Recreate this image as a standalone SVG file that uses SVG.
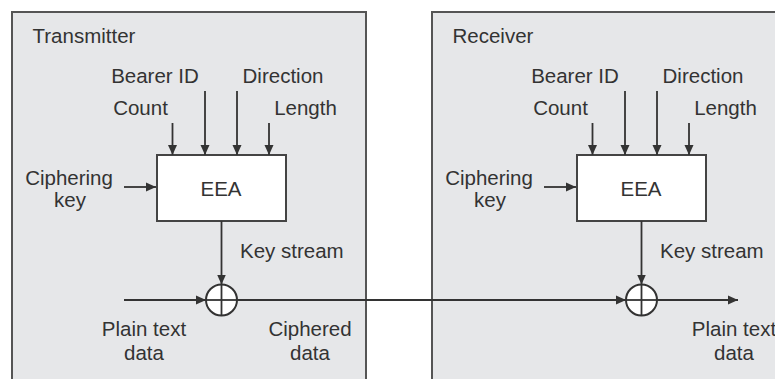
<svg xmlns="http://www.w3.org/2000/svg" width="775" height="379" viewBox="0 0 775 379">
  <style>
    .panel { fill: #e6e7e9; stroke: #555; stroke-width: 2; }
    .block { fill: #ffffff; stroke: #444; stroke-width: 2; }
    .xor { fill: #ffffff; stroke: #333; stroke-width: 2; }
    .wire { fill: none; stroke: #333; stroke-width: 1.8; }
    .lbl { font-family: "Liberation Sans", Arial, Helvetica, sans-serif; font-size: 20.5px; fill: #333; }
    .mid { text-anchor: middle; }
  </style>
  <defs>
    <marker id="arrow" markerUnits="userSpaceOnUse" markerWidth="10" markerHeight="10" viewBox="0 0 10 10" refX="10" refY="5" orient="auto">
      <path d="M0,0.5 L10,5 L0,9.5 z" fill="#333"/>
    </marker>
  </defs>

  <rect width="775" height="379" fill="#ffffff"/>

  <!-- Transmitter side -->
  <g id="transmitter">
    <rect class="panel" x="12" y="12" width="354" height="380"/>
    <text class="lbl" x="32.5" y="43">Transmitter</text>
  </g>
  <g id="tx-inputs">
    <text class="lbl mid" x="155" y="83">Bearer ID</text>
    <text class="lbl mid" x="283" y="83">Direction</text>
    <text class="lbl mid" x="140.5" y="115">Count</text>
    <text class="lbl mid" x="305.5" y="115">Length</text>
    <text class="lbl mid" x="69" y="185">Ciphering</text>
    <text class="lbl mid" x="70" y="207">key</text>
  </g>
  <g id="tx-eea">
    <rect class="block" x="157" y="155" width="129" height="66"/>
    <text class="lbl mid" x="221" y="196">EEA</text>
  </g>
  <g id="tx-xor">
    <circle class="xor" cx="221.5" cy="300" r="15.5"/>
    <line class="wire" x1="221.5" y1="284.5" x2="221.5" y2="315.5"/>
    <line class="wire" x1="206" y1="300" x2="237" y2="300"/>
  </g>
  <g id="tx-data">
    <text class="lbl" x="240" y="258">Key stream</text>
    <text class="lbl mid" x="144" y="336">Plain text</text>
    <text class="lbl mid" x="144" y="360">data</text>
    <text class="lbl mid" x="310" y="336">Ciphered</text>
    <text class="lbl mid" x="310" y="360">data</text>
  </g>

  <!-- Receiver side -->
  <g id="receiver">
    <rect class="panel" x="432" y="12" width="360" height="380"/>
    <text class="lbl" x="452.5" y="43">Receiver</text>
  </g>
  <g id="rx-inputs">
    <text class="lbl mid" x="575" y="83">Bearer ID</text>
    <text class="lbl mid" x="703" y="83">Direction</text>
    <text class="lbl mid" x="560.5" y="115">Count</text>
    <text class="lbl mid" x="725.5" y="115">Length</text>
    <text class="lbl mid" x="489" y="185">Ciphering</text>
    <text class="lbl mid" x="490" y="207">key</text>
  </g>
  <g id="rx-eea">
    <rect class="block" x="577" y="155" width="129" height="66"/>
    <text class="lbl mid" x="641" y="196">EEA</text>
  </g>
  <g id="rx-xor">
    <circle class="xor" cx="641.5" cy="300" r="15.5"/>
    <line class="wire" x1="641.5" y1="284.5" x2="641.5" y2="315.5"/>
    <line class="wire" x1="626" y1="300" x2="657" y2="300"/>
  </g>
  <g id="rx-data">
    <text class="lbl" x="660" y="258">Key stream</text>
    <text class="lbl mid" x="734" y="336">Plain text</text>
    <text class="lbl mid" x="734" y="360">data</text>
  </g>

  <!-- Connectors -->
  <g id="connectors">
    <!-- transmitter parameter inputs -->
    <line class="wire" x1="172.5" y1="123" x2="172.5" y2="155" marker-end="url(#arrow)"/>
    <line class="wire" x1="205" y1="91" x2="205" y2="155" marker-end="url(#arrow)"/>
    <line class="wire" x1="237" y1="91" x2="237" y2="155" marker-end="url(#arrow)"/>
    <line class="wire" x1="269" y1="123" x2="269" y2="155" marker-end="url(#arrow)"/>
    <line class="wire" x1="124" y1="187" x2="156" y2="187" marker-end="url(#arrow)"/>
    <line class="wire" x1="221.5" y1="221" x2="221.5" y2="284.5" marker-end="url(#arrow)"/>
    <line class="wire" x1="124" y1="300" x2="206" y2="300" marker-end="url(#arrow)"/>
    <!-- ciphered data across the link -->
    <line class="wire" x1="237" y1="300" x2="626" y2="300" marker-end="url(#arrow)"/>
    <!-- receiver parameter inputs -->
    <line class="wire" x1="592.5" y1="123" x2="592.5" y2="155" marker-end="url(#arrow)"/>
    <line class="wire" x1="625" y1="91" x2="625" y2="155" marker-end="url(#arrow)"/>
    <line class="wire" x1="657" y1="91" x2="657" y2="155" marker-end="url(#arrow)"/>
    <line class="wire" x1="689" y1="123" x2="689" y2="155" marker-end="url(#arrow)"/>
    <line class="wire" x1="544" y1="187" x2="576" y2="187" marker-end="url(#arrow)"/>
    <line class="wire" x1="641.5" y1="221" x2="641.5" y2="284.5" marker-end="url(#arrow)"/>
    <line class="wire" x1="657" y1="300" x2="738" y2="300" marker-end="url(#arrow)"/>
  </g>
</svg>
